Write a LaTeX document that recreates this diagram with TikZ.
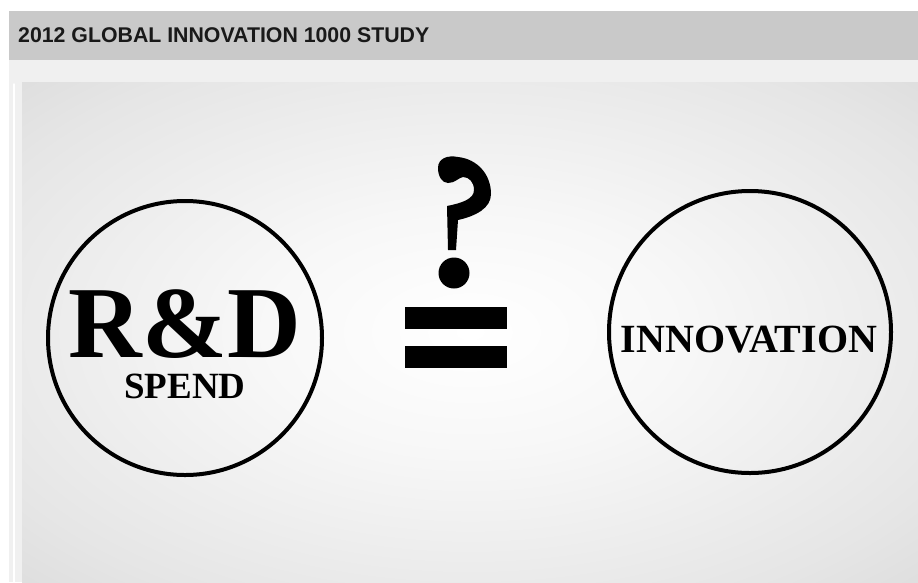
\documentclass[tikz,border=0pt]{standalone}
\usepackage{fontspec}
\setmainfont{Liberation Serif}
\newfontfamily\headfont{Liberation Sans}
\pgfdeclareradialshading{panelglow}{\pgfpoint{0bp}{0bp}}{color(0bp)=(white);color(12bp)=(white!97!black);color(30bp)=(white!90!black);color(50bp)=(white!80!black);color(72bp)=(white!73!black)}
\begin{document}
\begin{tikzpicture}[x=1pt, y=-1pt, line join=round, line cap=round,
	ring/.style={circle, draw=black, line width=4pt, inner sep=0pt},
	bar/.style={fill=black, inner sep=0pt, minimum width=102pt, minimum height=22pt},
	serif/.style={inner sep=0pt, text depth=0pt, anchor=base}]
			\useasboundingbox (0,0) rectangle (918,582);
			\fill[white] (0,0) rectangle (918,582);
			\fill[black!21] (9,11) rectangle (918,60);
			\fill[black!6] (9,60) rectangle (918,582);
			\draw[white, line width=1.5pt] (14,84)--(14,582);
			\shade[shading=panelglow] (22,82) rectangle (918,582);
			\node[anchor=west, inner sep=0pt, text=black!90, font=\headfont\bfseries\fontsize{21.3}{22}\selectfont] (head) at (18,35) {2012 GLOBAL INNOVATION 1000 STUDY};
			\node[ring, minimum size=274pt] (rd) at (185,338) {};
			\node[ring, minimum size=282pt] (inno) at (750,332) {};
			\node[serif, align=center, font=\bfseries\fontsize{37}{41}\selectfont] (rdtext) at (185,398) {{\fontsize{102}{102}\selectfont R\&D}\\SPEND};
			\node[serif, font=\bfseries\fontsize{40}{40}\selectfont] (innotext) at (749,352) {INNOVATION};
			\node[bar] (bartop) at (456,318) {};
			\node[bar] (barbot) at (456,357) {};
			% question mark
			\fill (438,168) .. controls (438,158) and (448,155) .. (458,157) .. controls (477,159) and (491,174) .. (491,194) .. controls (491,208) and (476,216) .. (458,220) -- (456,250) -- (448,250) -- (447,206) .. controls (462,203) and (474,199) .. (474,190) .. controls (474,182) and (469,177) .. (463,177) .. controls (458,178) and (455,183) .. (448,183) .. controls (442,183) and (438,176) .. (438,168) -- cycle;
			\node[circle, fill=black, inner sep=0pt, minimum size=31pt] (dot) at (454,273) {};
		\end{tikzpicture}
\end{document}
